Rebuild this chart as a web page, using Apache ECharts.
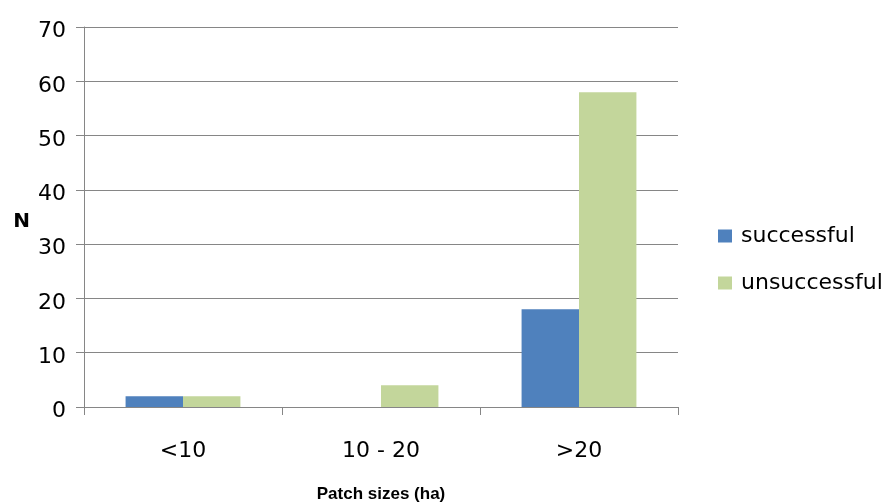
<!DOCTYPE html>
<html><head><meta charset="utf-8">
<script src="https://cdn.jsdelivr.net/npm/echarts@6/dist/echarts.min.js"></script>
<style>html,body{margin:0;padding:0;background:#fff}#c{width:883px;height:503px}</style>
</head><body><div id="c"></div>
<script>
const categories = ['<10', '10 - 20', '>20'];
const successful = [2, 0, 18];
const unsuccessful = [2, 4, 58];
const yTicks = [0, 10, 20, 30, 40, 50, 60, 70];

const chart = echarts.init(document.getElementById('c'));
const font = 'DejaVu Sans, Verdana, sans-serif';
const bold = 'Liberation Sans, Arial, sans-serif';
chart.setOption({
  animation: false,
  grid: {left: 84, right: 205, top: 27, bottom: 96, containLabel: false, outerBoundsMode: 'none'},
  legend: {
    orient: 'vertical', left: 713, top: 220, itemWidth: 14, itemHeight: 13, itemGap: 25,
    icon: 'rect', itemStyle: {borderWidth: 0},
    textStyle: {fontFamily: font, fontSize: 22, color: '#000', padding: [0, 0, 0, 4]},
    data: ['successful', 'unsuccessful']
  },
  xAxis: {
    type: 'category', data: categories,
    name: 'Patch sizes (ha)', nameLocation: 'middle', nameGap: 79,
    nameTextStyle: {fontFamily: bold, fontSize: 17, fontWeight: 'bold', color: '#000'},
    axisLine: {lineStyle: {color: '#868686'}},
    axisTick: {show: true, length: 8, lineStyle: {color: '#868686'}},
    axisLabel: {fontFamily: font, fontSize: 22, color: '#000', margin: 33}
  },
  yAxis: {
    type: 'value', min: yTicks[0], max: yTicks[yTicks.length - 1], interval: 10,
    name: 'N', nameLocation: 'middle', nameGap: 54, nameRotate: 0,
    nameTextStyle: {fontFamily: font, fontSize: 20, fontWeight: 'bold', color: '#000', verticalAlign: 'top', lineHeight: 10},
    axisLine: {show: true, lineStyle: {color: '#868686'}},
    axisTick: {show: true, length: 8, lineStyle: {color: '#868686'}},
    axisLabel: {fontFamily: font, fontSize: 22, color: '#000', margin: 18, verticalAlign: 'top', lineHeight: 9},
    splitLine: {lineStyle: {color: '#868686'}}
  },
  series: [
    {name: 'successful', type: 'bar', data: successful, barGap: '0%', barCategoryGap: '42%', itemStyle: {color: '#4F81BD'}},
    {name: 'unsuccessful', type: 'bar', data: unsuccessful, barGap: '0%', barCategoryGap: '42%', itemStyle: {color: '#C3D69B'}}
  ]
});
</script></body></html>
